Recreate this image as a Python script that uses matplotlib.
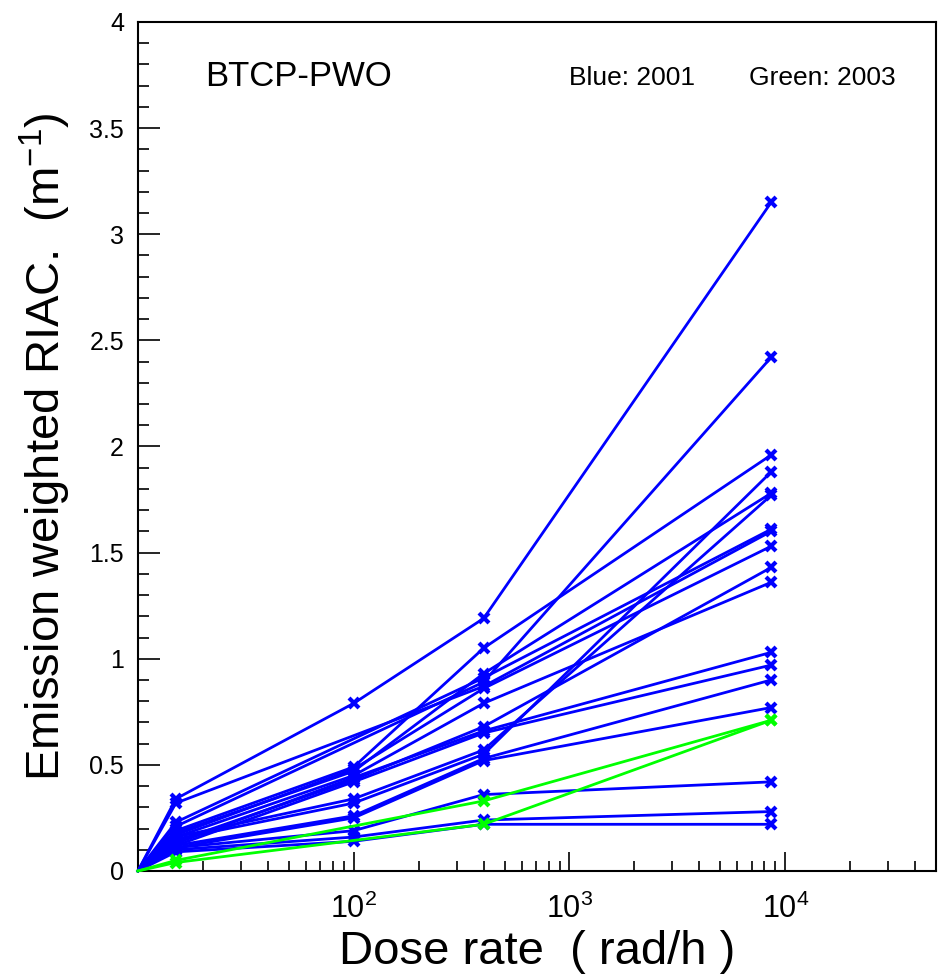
import math
import matplotlib
matplotlib.use("Agg")
import matplotlib.pyplot as plt
from matplotlib.ticker import MultipleLocator, LogLocator, NullFormatter, FixedLocator

plt.rcParams['font.family'] = ['Liberation Sans', 'DejaVu Sans']
plt.rcParams['mathtext.default'] = 'regular'

# Dose rates (rad/h) at which measurements were taken
dose = [10, 15, 100, 400, 8600]

# 2001 crystals (blue); None = not measured at that dose rate
blue_series = [
    [0, 0.34, 0.79, 1.19, 3.15],
    [0, 0.21, None, 0.89, 2.42],
    [0, 0.19, 0.49, 1.05, 1.96],
    [0, 0.15, 0.32, 0.55, 1.88],
    [0, 0.16, 0.34, 0.57, 1.77],
    [0, 0.18, 0.47, 0.93, 1.78],
    [0, 0.23, None, 0.91, 1.61],
    [0, 0.32, None, 0.87, 1.60],
    [0, 0.17, 0.48, 0.86, 1.53],
    [0, 0.14, 0.43, 0.68, 1.43],
    [0, 0.16, 0.45, 0.79, 1.36],
    [0, 0.13, 0.44, 0.66, 1.03],
    [0, 0.12, 0.42, 0.65, 0.97],
    [0, 0.12, 0.26, 0.53, 0.90],
    [0, 0.11, 0.25, 0.52, 0.77],
    [0, 0.11, 0.19, 0.36, 0.42],
    [0, 0.10, 0.16, 0.24, 0.28],
    [0, 0.09, 0.14, 0.22, 0.22],
]

# 2003 crystals (green)
green_series = [
    [0, 0.05, None, 0.33, 0.71],
    [0, 0.04, None, 0.22, 0.71],
]

y_ticks = [0, 0.5, 1, 1.5, 2, 2.5, 3, 3.5, 4]
y_tick_labels = ['0', '0.5', '1', '1.5', '2', '2.5', '3', '3.5', '4']
x_ticks = [100, 1000, 10000]

fig = plt.figure(figsize=(9.38, 9.77), dpi=100)
ax = fig.add_axes([0.147, 0.1085, 0.851, 0.869])

def draw(series, color):
    for s in series:
        xs = [d for d, v in zip(dose, s) if v is not None]
        ys = [v for v in s if v is not None]
        ax.plot(xs, ys, color=color, lw=2.0, marker='x', ms=7, mew=3.0,
                markevery=list(range(1, len(xs))), clip_on=False, zorder=3)

draw(blue_series, '#0000ff')
draw(green_series, '#00ff00')

ax.set_xscale('log')
ax.set_xlim(10, 5e4)
ax.set_ylim(0, 4)

ax.yaxis.set_major_locator(FixedLocator(y_ticks))
ax.yaxis.set_minor_locator(MultipleLocator(0.1))
ax.set_yticklabels(y_tick_labels)
ax.xaxis.set_major_locator(FixedLocator(x_ticks))
ax.xaxis.set_minor_locator(LogLocator(base=10, subs=range(2, 10), numticks=20))
ax.xaxis.set_minor_formatter(NullFormatter())
ax.set_xticklabels([r'$10^{%d}$' % round(math.log10(t)) for t in x_ticks])
ax.set_xlim(10, 5e4)

ax.tick_params(axis='both', which='both', direction='in', top=False, right=False, width=1.2)
ax.tick_params(axis='y', which='major', length=16, labelsize=18, pad=10)
ax.tick_params(axis='y', which='minor', length=8)
ax.tick_params(axis='x', which='major', length=14, labelsize=22, pad=16)
ax.tick_params(axis='x', which='minor', length=7)

for sp in ax.spines.values():
    sp.set_linewidth(1.5)

ax.set_xlabel('Dose rate  ( rad/h )', fontsize=34, labelpad=4)
ax.set_ylabel('Emission weighted RIAC.  (m$^{-1}$)', fontsize=34, labelpad=12)

ax.text(0.084, 0.936, 'BTCP-PWO', transform=ax.transAxes, fontsize=25,
        ha='left', va='center')
ax.text(0.54, 0.934, 'Blue: 2001', transform=ax.transAxes, fontsize=19,
        ha='left', va='center')
ax.text(0.765, 0.934, 'Green: 2003', transform=ax.transAxes, fontsize=19,
        ha='left', va='center')

fig.savefig('out.png', dpi=100)
